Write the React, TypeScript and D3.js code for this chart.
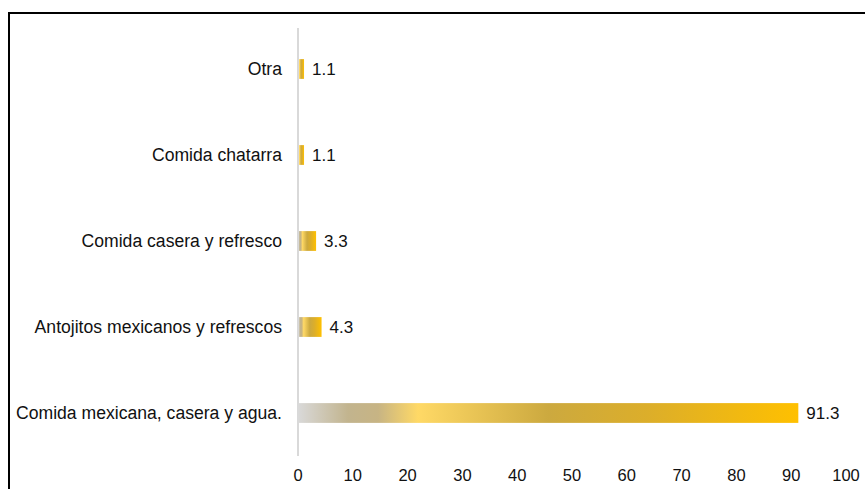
import React from "react";
import * as d3 from "d3";

const categories = [
  "Otra",
  "Comida chatarra",
  "Comida casera y refresco",
  "Antojitos mexicanos y refrescos",
  "Comida mexicana, casera y agua.",
];
const values = [1.1, 1.1, 3.3, 4.3, 91.3];
const ticks = [0, 10, 20, 30, 40, 50, 60, 70, 80, 90, 100];

const gradientStops = [
  { offset: 0, color: "#d9d9d9" },
  { offset: 0.1, color: "#c2b48e" },
  { offset: 0.16, color: "#c7b484" },
  { offset: 0.24, color: "#ffd966" },
  { offset: 0.5, color: "#cca93f" },
  { offset: 0.7, color: "#dcae2a" },
  { offset: 1, color: "#ffc000" },
];

export default function App() {
  const width = 865;
  const height = 489;
  const x = d3.scaleLinear().domain([0, 100]).range([298, 846]);
  const y = d3.scaleBand().domain(categories).range([26, 456]).paddingInner(0.77).paddingOuter(0.385);
  const font = "'Liberation Sans', Arial, sans-serif";

  return (
    <svg
      width={width}
      height={height}
      style={{ position: "absolute", left: 0, top: 0, background: "#fff" }}
    >
      <defs>
        <linearGradient id="barGrad" x1="0" y1="0" x2="1" y2="0">
          {gradientStops.map((s, i) => (
            <stop key={i} offset={s.offset} stopColor={s.color} />
          ))}
        </linearGradient>
      </defs>
      <rect x={9} y={13} width={900} height={520} fill="none" stroke="#000" strokeWidth={2} />
      {categories.map((c, i) => {
        const yy = y(c)!;
        const bw = y.bandwidth();
        return (
          <g key={c}>
            <rect x={x(0)} y={yy} width={x(values[i]) - x(0)} height={bw} fill="url(#barGrad)" />
            <text
              x={282}
              y={yy + bw / 2}
              dy="0.35em"
              textAnchor="end"
              fontFamily={font}
              fontSize={17.6}
              fill="#111"
            >
              {c}
            </text>
            <text
              x={x(values[i]) + 8}
              y={yy + bw / 2}
              dy="0.35em"
              fontFamily={font}
              fontSize={17}
              fill="#111"
            >
              {values[i].toFixed(1)}
            </text>
          </g>
        );
      })}
      <line x1={x(0)} x2={x(0)} y1={28} y2={456} stroke="#d9d9d9" strokeWidth={2} />
      {ticks.map((t) => (
        <text
          key={t}
          x={x(t)}
          y={475}
          dy="0.35em"
          textAnchor="middle"
          fontFamily={font}
          fontSize={16.5}
          fill="#111"
        >
          {t}
        </text>
      ))}
    </svg>
  );
}
